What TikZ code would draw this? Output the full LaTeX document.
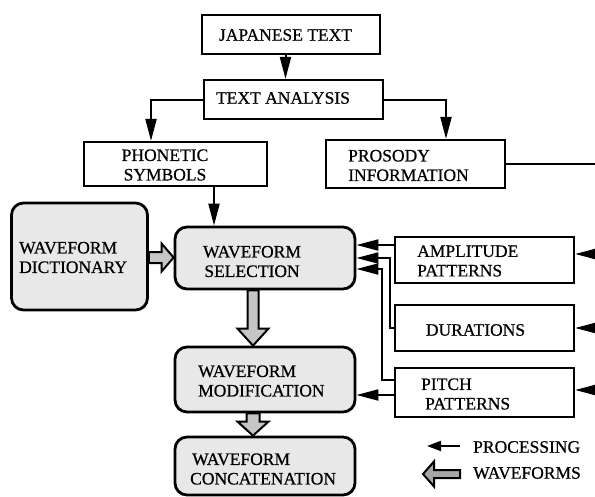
\documentclass[tikz,border=0pt]{standalone}
\usepackage{fontspec}
\setmainfont{Liberation Serif}[FakeBold=0.6]
\usetikzlibrary{arrows.meta,calc}
\begin{document}
\begin{tikzpicture}[x=1pt,y=-1pt,
  font=\rmfamily\fontsize{17.5}{19.5}\selectfont,
  box/.style={draw,line width=2.2pt,inner sep=0pt},
  rbox/.style={draw,line width=2.8pt,rounded corners=12pt,fill=gray!18,inner sep=0pt},
  lbl/.style={inner sep=0pt,align=left},
  clbl/.style={inner sep=0pt,align=center},
  arr/.style={line width=2pt,-{Triangle[length=22pt,width=11pt]}},
  conn/.style={line width=2pt},
  warr/.style={draw,line width=2pt,fill=gray!45,line join=miter},
  wleg/.style={draw,line width=2pt,fill=gray!70,line join=miter}]
\useasboundingbox (0,0) rectangle (595,496);
% boxes
\node[box,minimum width=178pt,minimum height=39pt] (jt) at (291,34.5) {};
\node[box,minimum width=179pt,minimum height=39pt] (ta) at (293.5,99.5) {};
\node[box,minimum width=183pt,minimum height=44pt] (ph) at (175.5,164) {};
\node[box,minimum width=179pt,minimum height=48pt] (pr) at (415.5,164) {};
\node[rbox,minimum width=136pt,minimum height=107pt] (dict) at (79.5,256.5) {};
\node[rbox,minimum width=180pt,minimum height=62pt] (ws) at (265,258) {};
\node[rbox,minimum width=180pt,minimum height=65pt] (wm) at (265,379.5) {};
\node[rbox,minimum width=180pt,minimum height=58pt] (wc) at (265,466) {};
\node[box,minimum width=179pt,minimum height=46pt] (amp) at (484.5,260) {};
\node[box,minimum width=179pt,minimum height=46pt] (dur) at (484.5,328) {};
\node[box,minimum width=179pt,minimum height=49pt] (pit) at (484.5,392.5) {};
% labels
\node[clbl] (jtl) at (285.5,35) {JAPANESE TEXT};
\node[clbl] (tal) at (283,98) {TEXT ANALYSIS};
\node[clbl] (phl) at (165,165) {PHONETIC\\SYMBOLS};
\node[lbl,anchor=west] (prl) at (348,165.5) {PROSODY\\INFORMATION};
\node[lbl,anchor=west] (dictl) at (19,257.5) {WAVEFORM\\DICTIONARY};
\node[clbl] (wsl) at (252,261.5) {WAVEFORM\\SELECTION};
\node[lbl,anchor=west] (wml) at (198,381) {WAVEFORM\\MODIFICATION};
\node[lbl,anchor=west] (wcl) at (190,469) {\hspace{2pt}WAVEFORM\\CONCATENATION};
\node[lbl,anchor=west] (ampl) at (417,261) {AMPLITUDE\\PATTERNS};
\node[clbl] (durl) at (475.5,330) {DURATIONS};
\node[lbl,anchor=west] (pitl) at (421,394) {PITCH\\\hspace{4pt}PATTERNS};
\node[lbl,anchor=west] (procl) at (473,447) {PROCESSING};
\node[lbl,anchor=west] (wavl) at (473,473) {WAVEFORMS};
% coordinates
\coordinate (c1) at (151,0);
\coordinate (c2) at (446,0);
\coordinate (c3) at (214,0);
\coordinate (e0) at (595,164);
\coordinate (e1) at (595,254);
\coordinate (e2) at (595,328);
\coordinate (e3) at (595,390);
\coordinate (k1) at (0,245);
\coordinate (k2) at (390,258);
\coordinate (k3) at (382,269);
\coordinate (k3b) at (0,380);
\coordinate (k4) at (0,395);
% thin connectors
\draw[arr] (jtl |- jt.south) -- (jtl |- ta.north);
\draw[arr] (ta.west) -| (c1 |- ph.north);
\draw[arr] (ta.east) -| (c2 |- pr.north);
\draw[arr] (c3 |- ph.south) -- (c3 |- ws.north);
\draw[conn] (pr.east) -- (e0);
\draw[arr] (e1) -- (e1 -| amp.east);
\draw[arr] (e2) -- (e2 -| dur.east);
\draw[arr] (e3) -- (e3 -| pit.east);
\draw[arr] (amp.west |- k1) -- (ws.east |- k1);
\draw[arr] (dur.west) -| (k2) -- (ws.east |- k2);
\draw[arr] (pit.west |- k3b) -| (k3) -- (ws.east |- k3);
\draw[arr] (pit.west |- k4) -- (wm.east |- k4);
% waveform arrows
\coordinate (hy) at (0,257.5);
\coordinate (ha) at (dict.east |- hy);
\coordinate (hb) at (ws.west |- hy);
\draw[warr] ($(ha)+(0,-5.5)$) -- ($(hb)+(-12,-5.5)$) -- ($(hb)+(-12,-14)$) -- (hb)
  -- ($(hb)+(-12,14)$) -- ($(hb)+(-12,5.5)$) -- ($(ha)+(0,5.5)$) -- cycle;
\coordinate (vx) at (253,0);
\coordinate (va) at (vx |- ws.south);
\coordinate (vb) at (vx |- wm.north);
\draw[warr] ($(va)+(-5.5,0)$) -- ($(vb)+(-5.5,-17)$) -- ($(vb)+(-15.5,-17)$) -- (vb)
  -- ($(vb)+(15.5,-17)$) -- ($(vb)+(5.5,-17)$) -- ($(va)+(5.5,0)$) -- cycle;
\coordinate (vc) at (vx |- wm.south);
\coordinate (vd) at (vx |- wc.north);
\draw[warr] ($(vc)+(-6.5,0)$) -- ($(vd)+(-6.5,-14)$) -- ($(vd)+(-15.5,-14)$) -- (vd)
  -- ($(vd)+(15.5,-14)$) -- ($(vd)+(6.5,-14)$) -- ($(vc)+(6.5,0)$) -- cycle;
% legend
\coordinate (la) at (460,446);
\coordinate (lb) at (427,446);
\draw[line width=2pt,-{Triangle[length=14pt,width=10pt]}] (la) -- (lb);
\coordinate (lc) at (460,474);
\coordinate (ld) at (423,474);
\draw[wleg] ($(lc)+(0,-4)$) -- ($(ld)+(11,-4)$) -- ($(ld)+(11,-12.5)$) -- (ld)
  -- ($(ld)+(11,12.5)$) -- ($(ld)+(11,4)$) -- ($(lc)+(0,4)$) -- cycle;
\end{tikzpicture}
\end{document}
